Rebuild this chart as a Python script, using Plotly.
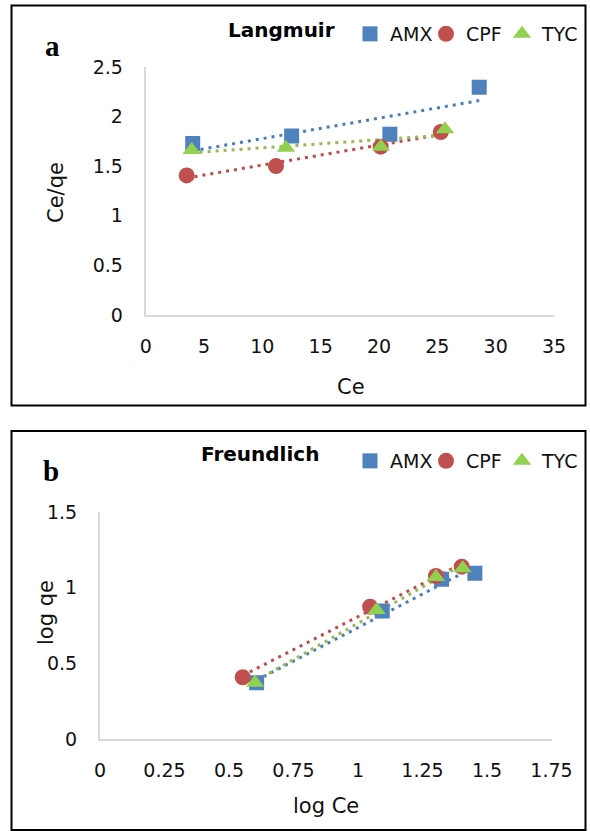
import numpy as np
import plotly.graph_objects as go

# ---------------- data ----------------
series_names = ["AMX", "CPF", "TYC"]

# Panel a: Langmuir (Ce vs Ce/qe)
lang_ce_amx = [4.03, 12.51, 20.93, 28.59]
lang_y_amx = [1.728, 1.805, 1.822, 2.295]
lang_ce_cpf = [3.51, 11.17, 20.14, 25.30]
lang_y_cpf = [1.407, 1.501, 1.697, 1.845]
lang_ce_tyc = [3.94, 12.02, 20.16, 25.65]
lang_y_tyc = [1.663, 1.687, 1.697, 1.872]

# Panel b: Freundlich (log Ce vs log qe)
fr_x_amx = [0.607, 1.094, 1.324, 1.453]
fr_y_amx = [0.372, 0.846, 1.056, 1.095]
fr_x_cpf = [0.553, 1.047, 1.302, 1.402]
fr_y_cpf = [0.408, 0.874, 1.077, 1.139]
fr_x_tyc = [0.601, 1.072, 1.302, 1.406]
fr_y_tyc = [0.372, 0.853, 1.071, 1.128]

lang_xticks = [0, 5, 10, 15, 20, 25, 30, 35]
lang_yticks = [0, 0.5, 1, 1.5, 2, 2.5]
fr_xticks = [0, 0.25, 0.5, 0.75, 1, 1.25, 1.5, 1.75]
fr_yticks = [0, 0.5, 1, 1.5]

# ---------------- style ----------------
W, H = 590, 831
FONT = "'DejaVu Sans', sans-serif"
TXT = "#111111"
marker_colors = {"AMX": "#4F81BD", "CPF": "#C0504D", "TYC": "#92D050"}
line_colors = {"AMX": "#4A7EBB", "CPF": "#BE4B48", "TYC": "#98B954"}
symbols = {"AMX": "square", "CPF": "circle", "TYC": "triangle-up"}
sizes = {"AMX": 15, "CPF": 16, "TYC": 16}

def px_x(p):
    return p / W

def px_y(p):
    return 1 - p / H

fig = go.Figure()

panels = [
    ("x", "y", "legend", {"AMX": (lang_ce_amx, lang_y_amx), "CPF": (lang_ce_cpf, lang_y_cpf), "TYC": (lang_ce_tyc, lang_y_tyc)}),
    ("x2", "y2", "legend2", {"AMX": (fr_x_amx, fr_y_amx), "CPF": (fr_x_cpf, fr_y_cpf), "TYC": (fr_x_tyc, fr_y_tyc)}),
]

for xa, ya, leg, data in panels:
    for name in series_names:
        xs, ys = data[name]
        k, b = np.polyfit(xs, ys, 1)
        xl = np.array([min(xs), max(xs)])
        fig.add_trace(go.Scatter(
            x=xl, y=k * xl + b, mode="lines", xaxis=xa, yaxis=ya,
            line=dict(color=line_colors[name], width=3, dash="3px,5px"),
            showlegend=False, hoverinfo="skip"))
    for name in series_names:
        xs, ys = data[name]
        fig.add_trace(go.Scatter(
            x=xs, y=ys, mode="markers", name=name, xaxis=xa, yaxis=ya,
            legend=leg,
            marker=dict(symbol=symbols[name], size=sizes[name], color=marker_colors[name],
                        line=dict(width=0))))

axis_common = dict(showgrid=False, zeroline=False, showline=True, linecolor="#D9D9D9",
                   linewidth=2, ticks="", tickfont=dict(family=FONT, size=19, color=TXT),
                   fixedrange=True)

legend_common = dict(orientation="h", xanchor="left", yanchor="middle",
                     font=dict(family=FONT, size=19, color=TXT), bgcolor="rgba(0,0,0,0)",
                     itemwidth=30, tracegroupgap=0, entrywidth=31, entrywidthmode="pixels")

fig.update_layout(
    width=W, height=H, margin=dict(l=0, r=0, t=0, b=0, autoexpand=False),
    paper_bgcolor="white", plot_bgcolor="white",
    font=dict(family=FONT, color=TXT),
    xaxis=dict(domain=[px_x(145.7), px_x(554)], range=[0, 35], tickvals=lang_xticks,
               anchor="y", ticklabelstandoff=13, **axis_common),
    yaxis=dict(domain=[px_y(315), px_y(67)], range=[0, 2.5], tickvals=lang_yticks,
               ticktext=[f"{v:g}" for v in lang_yticks],
               anchor="x", ticklabelstandoff=17, **axis_common),
    xaxis2=dict(domain=[px_x(100), px_x(551.5)], range=[0, 1.75], tickvals=fr_xticks,
                ticktext=[f"{v:g}" for v in fr_xticks],
                anchor="y2", ticklabelstandoff=13, **axis_common),
    yaxis2=dict(domain=[px_y(739), px_y(512)], range=[0, 1.5], tickvals=fr_yticks,
                ticktext=[f"{v:g}" for v in fr_yticks],
                anchor="x2", ticklabelstandoff=17, **axis_common),
    legend=dict(x=px_x(350), y=px_y(34), **legend_common),
    legend2=dict(x=px_x(350), y=px_y(461), **legend_common),
    showlegend=True,
)

for y0, y1 in [(5.5, 405.5), (431, 830)]:
    fig.add_shape(type="rect", xref="paper", yref="paper",
                  x0=px_x(11.5), x1=px_x(585.5), y0=px_y(y1), y1=px_y(y0),
                  line=dict(color="black", width=2), fillcolor="rgba(0,0,0,0)")

SERIF = "'Liberation Serif', 'Times New Roman', serif"
annots = [
    ("Langmuir", 281, 30, dict(family=FONT, size=20, color="black"), True, 0),
    ("a", 52, 46, dict(family=SERIF, size=29, color="black"), True, 0),
    ("Ce", 351, 387, dict(family=FONT, size=21, color=TXT), False, 0),
    ("Ce/qe", 56, 193, dict(family=FONT, size=21, color=TXT), False, -90),
    ("Freundlich", 260, 454, dict(family=FONT, size=20, color="black"), True, 0),
    ("b", 51, 471, dict(family=SERIF, size=29, color="black"), True, 0),
    ("log Ce", 326, 806, dict(family=FONT, size=21, color=TXT), False, 0),
    ("log qe", 46, 613, dict(family=FONT, size=21, color=TXT), False, -90),
]
for text, xp, yp, f, bold, ang in annots:
    fig.add_annotation(text=f"<b>{text}</b>" if bold else text, xref="paper", yref="paper",
                       x=px_x(xp), y=px_y(yp), xanchor="center", yanchor="middle",
                       showarrow=False, font=f, textangle=ang)

fig.write_html("out.html", config={"displayModeBar": False},
               post_script="document.body.style.margin='0';document.body.style.overflow='hidden';")
